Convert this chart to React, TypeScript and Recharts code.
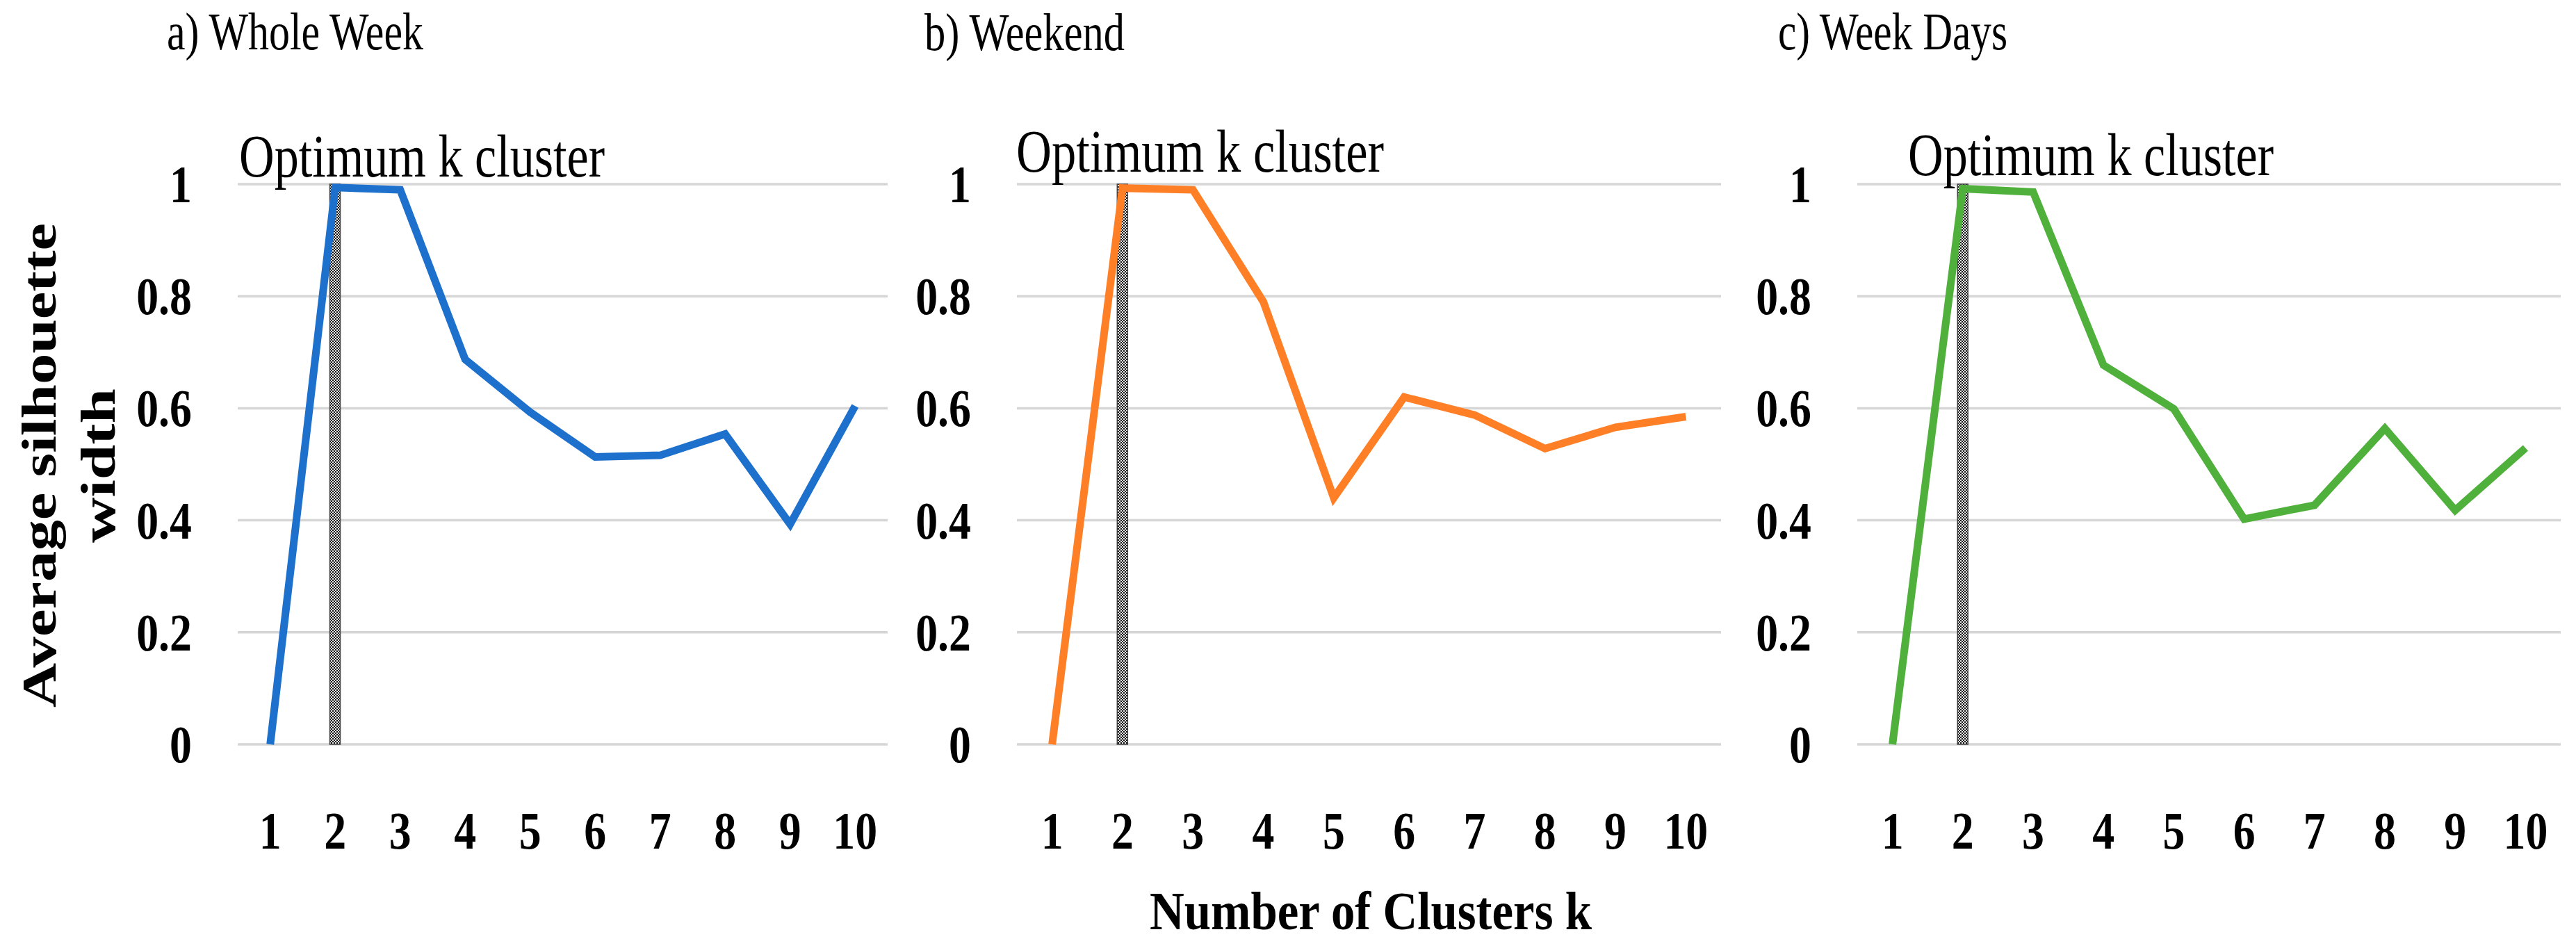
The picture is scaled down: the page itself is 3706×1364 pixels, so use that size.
import React from 'react';
import { ComposedChart, Line, Bar, XAxis, YAxis, CartesianGrid } from 'recharts';

// silhouette widths
const clusters = [1, 2, 3, 4, 5, 6, 7, 8, 9, 10];
const wholeWeek = [0, 0.994, 0.99, 0.687, 0.593, 0.513, 0.516, 0.554, 0.393, 0.604];
const weekend = [0, 0.993, 0.99, 0.79, 0.44, 0.62, 0.588, 0.528, 0.566, 0.585];
const weekDays = [0, 0.992, 0.986, 0.677, 0.599, 0.402, 0.427, 0.564, 0.418, 0.529];
const optimumK = 2;
const yTicks = [0, 0.2, 0.4, 0.6, 0.8, 1];

const SERIF = '"Liberation Serif", "DejaVu Serif", serif';
const PLOT_TOP = 265;
const PLOT_BOTTOM = 1071;
const H = 1364;
const X_AXIS_H = 200;

const buildRows = (values: number[]) =>
  clusters.map((k, i) => ({ k, value: values[i], optimum: k === optimumK ? 1 : null }));

const panels = [
  { id: 'a', title: 'a) Whole Week', values: wholeWeek, color: '#1e70cd', left: 0, width: 1300, plotLeft: 342, plotRight: 1277,
    titleX: 240, titleW: 369, titleY: 71, optX: 344, optW: 526, optY: 254 },
  { id: 'b', title: 'b) Weekend', values: weekend, color: '#ff7f27', left: 1300, width: 1200, plotLeft: 1463, plotRight: 2476,
    titleX: 1330, titleW: 288, titleY: 72, optX: 1462, optW: 529, optY: 247 },
  { id: 'c', title: 'c) Week Days', values: weekDays, color: '#50b03c', left: 2500, width: 1206, plotLeft: 2672, plotRight: 3684,
    titleX: 2558, titleW: 330, titleY: 71, optX: 2745, optW: 526, optY: 252 },
];

const XTick = (props: any) => {
  const { x, y, payload } = props;
  return (
    <g transform={`translate(${x},${y + 150}) scale(0.84,1)`}>
      <text x={0} y={0} textAnchor="middle" fontFamily={SERIF} fontWeight="bold" fontSize={76} fill="#000">
        {payload.value}
      </text>
    </g>
  );
};

const YTick = (props: any) => {
  const { x, y, payload } = props;
  return (
    <g transform={`translate(${x - 66},${y + 26}) scale(0.84,1)`}>
      <text x={0} y={0} textAnchor="end" fontFamily={SERIF} fontWeight="bold" fontSize={76} fill="#000">
        {payload.value}
      </text>
    </g>
  );
};

function Panel({ p }: { p: any }) {
  const rows = buildRows(p.values);
  return (
    <div style={{ position: 'absolute', left: p.left, top: 0 }}>
      <ComposedChart
        width={p.width}
        height={H}
        data={rows}
        margin={{ top: PLOT_TOP, right: p.left + p.width - p.plotRight, bottom: H - PLOT_BOTTOM - X_AXIS_H, left: 0 }}
      >
        <CartesianGrid vertical={false} stroke="#d6d6d6" strokeWidth={3.5} />
        <XAxis dataKey="k" type="category" height={X_AXIS_H} axisLine={false} tickLine={false} tickSize={0} tickMargin={0}
          tick={<XTick />} interval={0} />
        <YAxis type="number" domain={[0, 1]} ticks={yTicks} width={p.plotLeft - p.left} axisLine={false} tickLine={false}
          tickSize={0} tickMargin={0} tick={<YTick />} interval={0} />
        <Bar dataKey="optimum" barSize={15} fill="url(#hatch)" stroke="#444" strokeWidth={1.5} isAnimationActive={false} />
        <Line dataKey="value" stroke={p.color} strokeWidth={11} dot={false} activeDot={false} isAnimationActive={false} />
      </ComposedChart>
    </div>
  );
}

const Txt = (props: any) => {
  const { x, y, w, size, bold, children, rotate } = props;
  return (
    <text
      x={x}
      y={y}
      textLength={w}
      lengthAdjust="spacingAndGlyphs"
      fontFamily={SERIF}
      fontWeight={bold ? 'bold' : 'normal'}
      fontSize={size}
      fill="#000"
      transform={rotate ? `rotate(-90 ${x} ${y})` : undefined}
    >
      {children}
    </text>
  );
};

export default function App() {
  return (
    <div style={{ position: 'absolute', left: 0, top: 0, width: 3706, height: H, background: '#fff', overflow: 'hidden' }}>
      <svg width={0} height={0} style={{ position: 'absolute' }}>
        <defs>
          <pattern id="hatch" width="4" height="4" patternUnits="userSpaceOnUse">
            <rect width="4" height="4" fill="#eeeeee" />
            <rect width="2" height="2" fill="#111" />
            <rect x="2" y="2" width="2" height="2" fill="#111" />
          </pattern>
        </defs>
      </svg>
      {panels.map((p) => (
        <Panel key={p.id} p={p} />
      ))}
      <svg width={3706} height={H} style={{ position: 'absolute', left: 0, top: 0, pointerEvents: 'none' }}>
        {panels.map((p) => (
          <g key={p.id}>
            <Txt x={p.titleX} y={p.titleY} w={p.titleW} size={76}>{p.title}</Txt>
            <Txt x={p.optX} y={p.optY} w={p.optW} size={86}>Optimum k cluster</Txt>
          </g>
        ))}
        {/* rotated y title: text starts at bottom, so x/y is the start point */}
        <Txt x={80} y={1018} w={697} size={70} bold rotate>Average silhouette</Txt>
        <Txt x={165} y={781} w={222} size={70} bold rotate>width</Txt>
        <Txt x={1654} y={1337} w={636} size={78} bold>Number of Clusters k</Txt>
      </svg>
    </div>
  );
}
